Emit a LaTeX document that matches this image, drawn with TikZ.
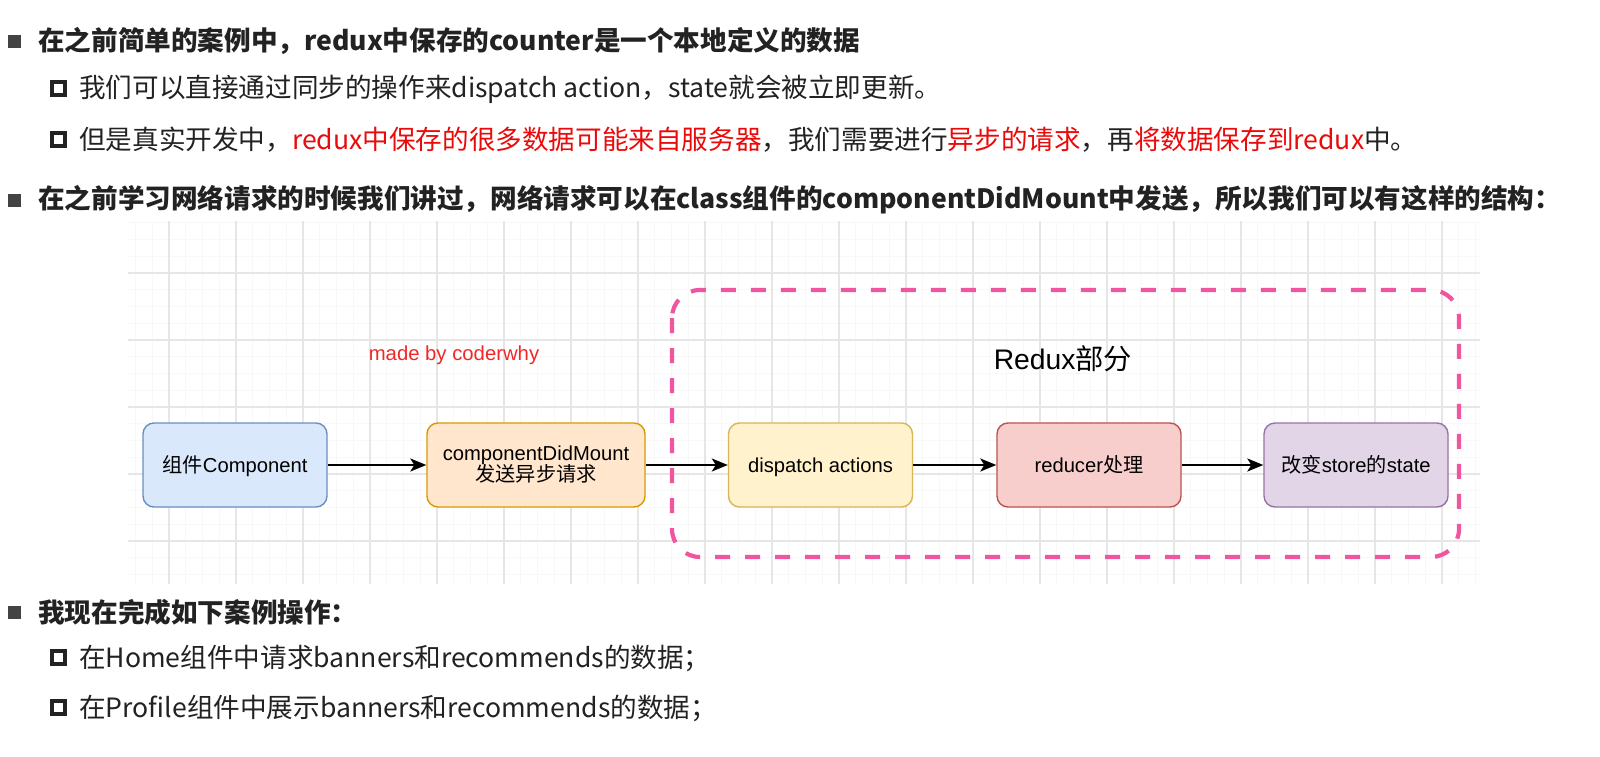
\documentclass[tikz,border=0pt]{standalone}
\usepackage{fontspec}
\setmainfont{Noto Sans CJK SC}
\newfontfamily\dg{Liberation Sans}
\newfontfamily\cjk{Noto Sans CJK SC}
\usetikzlibrary{arrows.meta}
\definecolor{txt}{RGB}{34,34,34}
\definecolor{hl}{RGB}{235,10,10}
\definecolor{mk}{RGB}{240,40,40}
\definecolor{pinkd}{RGB}{240,85,160}
\definecolor{gmaj}{RGB}{230,230,230}
\definecolor{gmin}{RGB}{248,248,248}
\definecolor{bF}{HTML}{DAE8FC}\definecolor{bD}{HTML}{6C8EBF}
\definecolor{oF}{HTML}{FFE6CC}\definecolor{oD}{HTML}{D79B00}
\definecolor{yF}{HTML}{FFF2CC}\definecolor{yD}{HTML}{D6B656}
\definecolor{rF}{HTML}{F8CECC}\definecolor{rD}{HTML}{B85450}
\definecolor{pF}{HTML}{E1D5E7}\definecolor{pD}{HTML}{9673A6}
\newcommand\zh[1]{{\cjk #1}}
\tikzset{
  head/.style={anchor=west,inner sep=0pt,text=txt,font=\bfseries\fontsize{26.6}{30}\selectfont},
  body/.style={anchor=west,inner sep=0pt,text=txt,font=\fontsize{26.6}{30}\selectfont},
  bigsq/.style={fill=txt!85!white,draw=none},
  smallsq/.style={draw=txt,line width=3.2pt,fill=white},
  box/.style={rounded corners=11pt,line width=1.4pt,minimum width=184pt,minimum height=84pt,align=center,inner sep=2pt,font=\dg\fontsize{20.2}{23}\selectfont,text=black},
  one/.style={text height=16pt,text depth=2pt},
  arr/.style={line width=1.9pt,-{Stealth[length=16pt,width=13pt,inset=4pt]}},
  gridmin/.style={gmin,line width=0.8pt},
  gridmaj/.style={gmaj,line width=1.2pt},
  grp/.style={pinkd,line width=4.2pt,dash pattern=on 15pt off 15pt,rounded corners=28pt},
}
\begin{document}
\begin{tikzpicture}[x=1pt,y=-1pt]
\useasboundingbox (0,0) rectangle (1600,757);
\fill[white] (0,0) rectangle (1600,757);
% grid
\foreach \i in {0,...,80} {\draw[gridmin] ({135.5+16.75*\i},221) -- ({135.5+16.75*\i},584);}
\foreach \j in {0,...,21} {\draw[gridmin] (128,{222.75+16.75*\j}) -- (1480,{222.75+16.75*\j});}
\foreach \i in {0,...,19} {\draw[gridmaj] ({169+67*\i},221) -- ({169+67*\i},584);}
\foreach \j in {0,...,4} {\draw[gridmaj] (128,{273+67*\j}) -- (1480,{273+67*\j});}
% text block
\fill[bigsq] (8,35) rectangle (21,48);
\node[head] (t1) at (38,41) {在之前简单的案例中，redux中保存的counter是一个本地定义的数据};
\draw[smallsq] (52,82) rectangle (65,95);
\node[body] (t2) at (79,89) {我们可以直接通过同步的操作来dispatch action，state就会被立即更新。};
\draw[smallsq] (52,133) rectangle (65,146);
\node[body] (t3) at (79,140) {但是真实开发中，\textcolor{hl}{redux中保存的很多数据可能来自服务器}，我们需要进行\textcolor{hl}{异步的请求}，再\textcolor{hl}{将数据保存到redux}中。};
\fill[bigsq] (8,194) rectangle (21,207);
\node[head] (t4) at (38,200) {在之前学习网络请求的时候我们讲过，网络请求可以在class组件的componentDidMount中发送，所以我们可以有这样的结构：};
% labels
\node[text=mk,font=\dg\fontsize{20.3}{23}\selectfont] (mb) at (454,355) {made by coderwhy};
\node[text=black,font=\dg\fontsize{28.3}{30}\selectfont] (rx) at (1063,359) {Redux\zh{部分}};
% nodes
\node[box,one,fill=bF,draw=bD] (n1) at (235,465) {\zh{组件}Component};
\node[box,fill=oF,draw=oD,minimum width=218pt] (n2) at (536,465) {componentDidMount\\[-2pt]\zh{发送异步请求}};
\node[box,one,fill=yF,draw=yD] (n3) at (820.5,465) {dispatch actions};
\node[box,one,fill=rF,draw=rD] (n4) at (1089,465) {reducer\zh{处理}};
\node[box,one,fill=pF,draw=pD] (n5) at (1356,465) {\zh{改变}store\zh{的}state};
\draw[arr] (n1) -- (n2);
\draw[arr] (n2) -- (n3);
\draw[arr] (n3) -- (n4);
\draw[arr] (n4) -- (n5);
% redux group
\coordinate (g1) at (672,290);
\coordinate (g2) at (1459,557);
\draw[grp] (g1) rectangle (g2);
% bottom text
\fill[bigsq] (8,606) rectangle (21,619);
\node[head] (t5) at (38,612) {我现在完成如下案例操作：};
\draw[smallsq] (52,651) rectangle (65,664);
\node[body] (t6) at (79,658) {在Home组件中请求banners和recommends的数据；};
\draw[smallsq] (52,701) rectangle (65,714);
\node[body] (t7) at (79,708) {在Profile组件中展示banners和recommends的数据；};
\end{tikzpicture}
\end{document}
